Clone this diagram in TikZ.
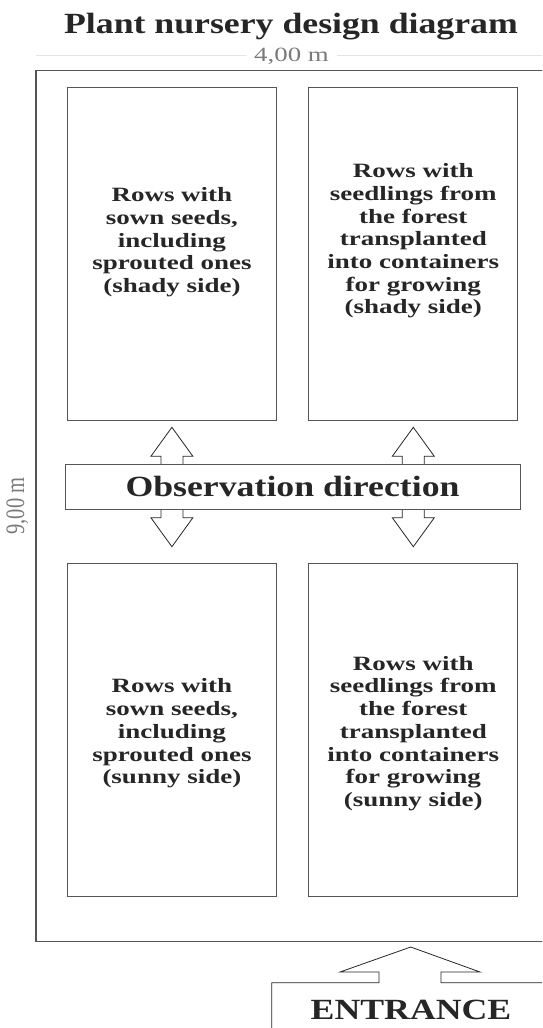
\documentclass[tikz,border=0pt]{standalone}
\usepackage{fontspec}
\setmainfont{Liberation Serif}[FakeStretch=1.33]
\newfontfamily\bigfont{Liberation Serif}[FakeStretch=1.22]
\newfontfamily\dimfont{Liberation Serif}
\definecolor{ink}{HTML}{262626}
\definecolor{frame}{HTML}{555555}
\definecolor{dimgray}{HTML}{7A7A7A}
\definecolor{rulegray}{HTML}{E4E4E4}
\tikzset{bed/.style={draw=frame,line width=1pt,minimum width=209.2pt,minimum height=332.8pt,inner sep=0pt},
bed text/.style={text=ink,align=center,font=\fontsize{20.3}{22.7}\selectfont\bfseries},
big text/.style={text=ink,font=\fontsize{29.3}{32}\bigfont\bfseries},
dim text/.style={text=dimgray,font=\fontsize{20.2}{22}\selectfont,inner sep=8pt},
}

\begin{document}
\begin{tikzpicture}[x=1pt,y=-1pt]
				\clip (0,0) rectangle (542,1028);
				\fill[white] (0,0) rectangle (542,1028);
				
				\node[big text,anchor=base] (title) at (291,33) {Plant nursery design diagram};
				
				% width dimension
				\node[dim text,anchor=base] (dimW) at (291.5,61.7) {4,00 m};
				\coordinate (dimL) at (36,55);
				\coordinate (dimR) at (542,55);
				\draw[rulegray,line width=1pt] (dimL) -- (dimL -| dimW.west);
				\draw[rulegray,line width=1pt] (dimW.east |- dimR) -- (dimR);
				\node[rotate=90,text=dimgray,font=\fontsize{20.5}{22}\dimfont] (dimH) at (17.3,506) {\scalebox{1}[1.3]{9,00 m}};
				
				% nursery outline
				\draw[frame,line width=1.5pt] (36,70.7) rectangle (580,941.7);
				
				% beds
				\node[bed] (shadyL) at (171.9,254.1) {};
				\node[bed] (shadyR) at (413.3,254.1) {};
				\node[bed] (sunnyL) at (171.9,729.9) {};
				\node[bed] (sunnyR) at (413.3,729.9) {};
				\node[bed text] (shadyLt) at (171.9,242.4) {Rows with\\sown seeds,\\including\\sprouted ones\\(shady side)};
				\node[bed text] (shadyRt) at (413.3,241) {Rows with\\seedlings from\\the forest\\transplanted\\into containers\\for growing\\(shady side)};
				\node[bed text] (sunnyLt) at (171.9,733.5) {Rows with\\sown seeds,\\including\\sprouted ones\\(sunny side)};
				\node[bed text] (sunnyRt) at (413.3,733.5) {Rows with\\seedlings from\\the forest\\transplanted\\into containers\\for growing\\(sunny side)};
				
				% observation arrows
				\foreach \cx in {171.9,413.3}
				\draw[ink,line width=0.8pt,line join=miter] (\cx,427.3) -- (\cx+21,456.3) -- (\cx+11,456.3) -- (\cx+11,517.7) -- (\cx+21,517.7) -- (\cx,546.7) -- (\cx-21,517.7) -- (\cx-11,517.7) -- (\cx-11,456.3) -- (\cx-21,456.3) -- cycle;
				\node[big text,draw=frame,line width=1pt,fill=white,minimum width=455pt,minimum height=45pt,inner sep=0pt] (obs) at (292.5,486.8) {Observation direction};
				
				% entrance
				\draw[ink,line width=0.8pt] (600,982.7) -- (441,982.7) -- (441,972) -- (480,972) -- (410.7,947) -- (340,972) -- (379,972) -- (379,982.7) -- (271.7,982.7) -- (271.7,1100);
				\node[big text,anchor=base] (entr) at (411,1019) {ENTRANCE};
				
			\end{tikzpicture}
\end{document}
